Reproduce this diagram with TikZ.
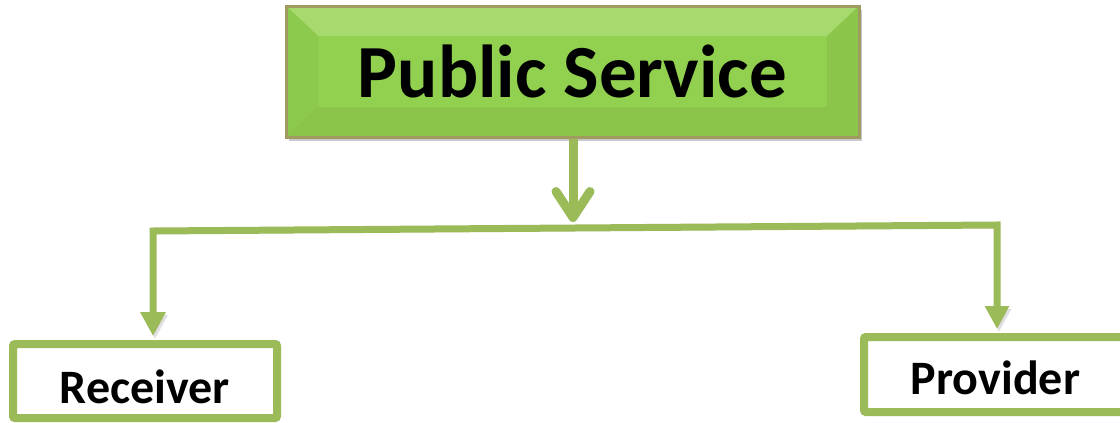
\documentclass[tikz,border=0pt]{standalone}
\usepackage{fontspec}
\setmainfont{Carlito}
\usetikzlibrary{arrows.meta,calc,shadows}
\definecolor{lineg}{HTML}{9BBB59}
\definecolor{boxg}{HTML}{92D050}
\definecolor{bevtop}{HTML}{A6DA6E}
\definecolor{bevleft}{HTML}{8DC94C}
\definecolor{bevright}{HTML}{8BC64A}
\definecolor{bevbot}{HTML}{8AC449}
\definecolor{rimg}{HTML}{A09B5E}
\tikzset{
  topbox/.style={rectangle, draw=rimg, line width=3pt, fill=boxg,
    font=\bfseries\fontsize{75}{78}\selectfont,
    drop shadow={shadow xshift=3pt, shadow yshift=-4pt, opacity=.35, fill=black!60},
    path picture={
      \coordinate (pnw) at (path picture bounding box.north west);
      \coordinate (pse) at (path picture bounding box.south east);
      \coordinate (pne) at (path picture bounding box.north east);
      \coordinate (psw) at (path picture bounding box.south west);
      \fill[bevtop] (pnw) -- (pne) -- ($(pne)+(-32,30)$) -- ($(pnw)+(32,30)$) -- cycle;
      \fill[bevleft] (pnw) -- ($(pnw)+(32,30)$) -- ($(psw)+(32,-30)$) -- (psw) -- cycle;
      \fill[bevright] (pne) -- ($(pne)+(-32,30)$) -- ($(pse)+(-32,-30)$) -- (pse) -- cycle;
      \fill[bevbot] (psw) -- ($(psw)+(32,-30)$) -- ($(pse)+(-32,-30)$) -- (pse) -- cycle;
    }},
  leafbox/.style={rectangle, draw=lineg, line width=8pt, fill=white, rounded corners=2pt,
    font=\bfseries\fontsize{48}{50}\selectfont, inner sep=0pt, text depth=0pt},
  conn/.style={draw=lineg, line width=7pt},
  shad/.style={preaction={draw=black!50, opacity=.25, transform canvas={shift={(2pt,-3pt)}}}}
}
\begin{document}
\begin{tikzpicture}[x=1pt,y=-1pt]
\useasboundingbox (0,0) rectangle (1120,423);
\clip (0,0) rectangle (1120,423);
\fill[white] (0,0) rectangle (1120,423);
\node[topbox, minimum width=573pt, minimum height=131pt] (top) at (572.5,71.5) {Public Service};
\node[leafbox, minimum width=264pt, minimum height=74pt, text height=44pt] (rec) at (145,381) {Receiver};
\node[leafbox, minimum width=263pt, minimum height=75pt, text height=39pt] (prov) at (995.5,374.5) {Provider};
\coordinate (j) at (573,228);
\coordinate (hl) at (153,231);
\coordinate (hr) at (997,225);
\draw[conn, shad, {Triangle[length=24pt,width=24pt]}-{Triangle[length=23pt,width=23pt]}, line join=miter, shorten <=4pt, shorten >=4pt]
  (hl |- rec.north) -- (hl) -- (hr) -- (hr |- prov.north);
\draw[conn, shad, line width=9pt, -{Straight Barb[length=26pt,width=34pt,round]}, shorten >=6pt]
  (top.south -| j) -- (j);
\end{tikzpicture}
\end{document}
